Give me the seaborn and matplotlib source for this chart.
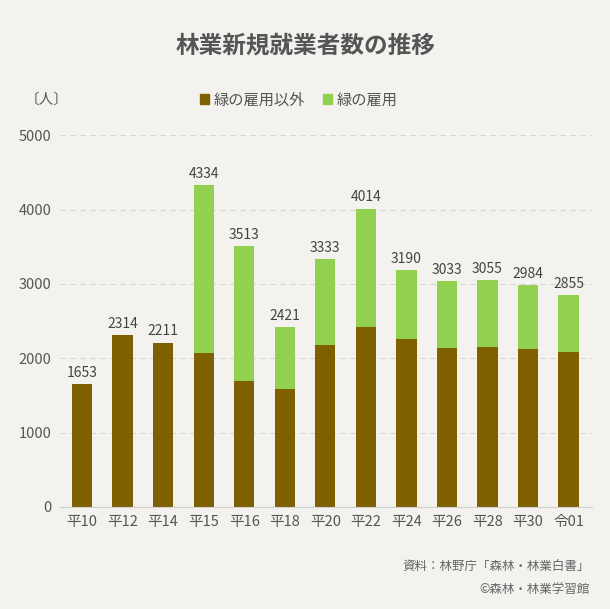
import pandas as pd
import matplotlib.pyplot as plt
import seaborn as sns
from matplotlib.patches import Patch

# data
years = ['平10', '平12', '平14', '平15', '平16', '平18', '平20',
         '平22', '平24', '平26', '平28', '平30', '令01']
totals = [1653, 2314, 2211, 4334, 3513, 2421, 3333,
          4014, 3190, 3033, 3055, 2984, 2855]
other = [1653, 2314, 2211, 2068, 1691, 1584, 2176,
         2418, 2257, 2135, 2149, 2122, 2082]   # 緑の雇用以外

df = pd.DataFrame({'year': years, 'total': totals, 'other': other})

sns.set_style('white')
plt.rcParams['font.family'] = ['Noto Sans CJK JP', 'DejaVu Sans']

bg = '#f3f2ef'
brown = '#7f6000'
green = '#92d050'
txt = '#555555'

fig = plt.figure(figsize=(6.1, 6.09), dpi=100, facecolor=bg)
ax = fig.add_axes([0.098, 0.1675, 0.872, 0.6105], facecolor=bg)

# totals in green, then the non-green part on top of it
sns.barplot(data=df, x='year', y='total', color=green, width=0.5,
            saturation=1, linewidth=0, ax=ax)
sns.barplot(data=df, x='year', y='other', color=brown, width=0.5,
            saturation=1, linewidth=0, ax=ax)

ax.bar_label(ax.containers[0], labels=[str(v) for v in totals],
             padding=3, fontsize=10, color='#444444')

ax.set_ylim(0, 5000)
ax.set_xlim(-0.55, 12.57)
ax.set_yticks(range(0, 5001, 1000))
ax.yaxis.grid(True, linestyle=(0, (5, 4)), color='#d6d6d6', linewidth=0.8)
ax.set_axisbelow(True)
for s in ['top', 'right', 'left']:
    ax.spines[s].set_visible(False)
ax.spines['bottom'].set_color('#d0d0d0')
ax.tick_params(axis='both', length=0, labelsize=10.5, colors=txt, pad=6)
ax.set_xlabel('')
ax.set_ylabel('')

fig.text(0.5, 0.925, '林業新規就業者数の推移', ha='center', va='center',
         fontsize=17, fontweight='bold', color='#555555')
fig.text(0.04, 0.836, '〔人〕', ha='left', va='center', fontsize=10.5, color=txt)

handles = [Patch(color=brown, label='緑の雇用以外'),
           Patch(color=green, label='緑の雇用')]
fig.legend(handles=handles, loc='center', bbox_to_anchor=(0.49, 0.836),
           ncol=2, frameon=False, fontsize=11, handlelength=0.6,
           handleheight=0.6, handletextpad=0.3, columnspacing=1.2,
           labelcolor=txt)

fig.text(0.967, 0.07, '資料：林野庁「森林・林業白書」', ha='right', va='center',
         fontsize=9, color='#666666')
fig.text(0.967, 0.032, '©森林・林業学習館', ha='right', va='center',
         fontsize=9, color='#666666')

fig.savefig('out.png', dpi=100, facecolor=bg)
